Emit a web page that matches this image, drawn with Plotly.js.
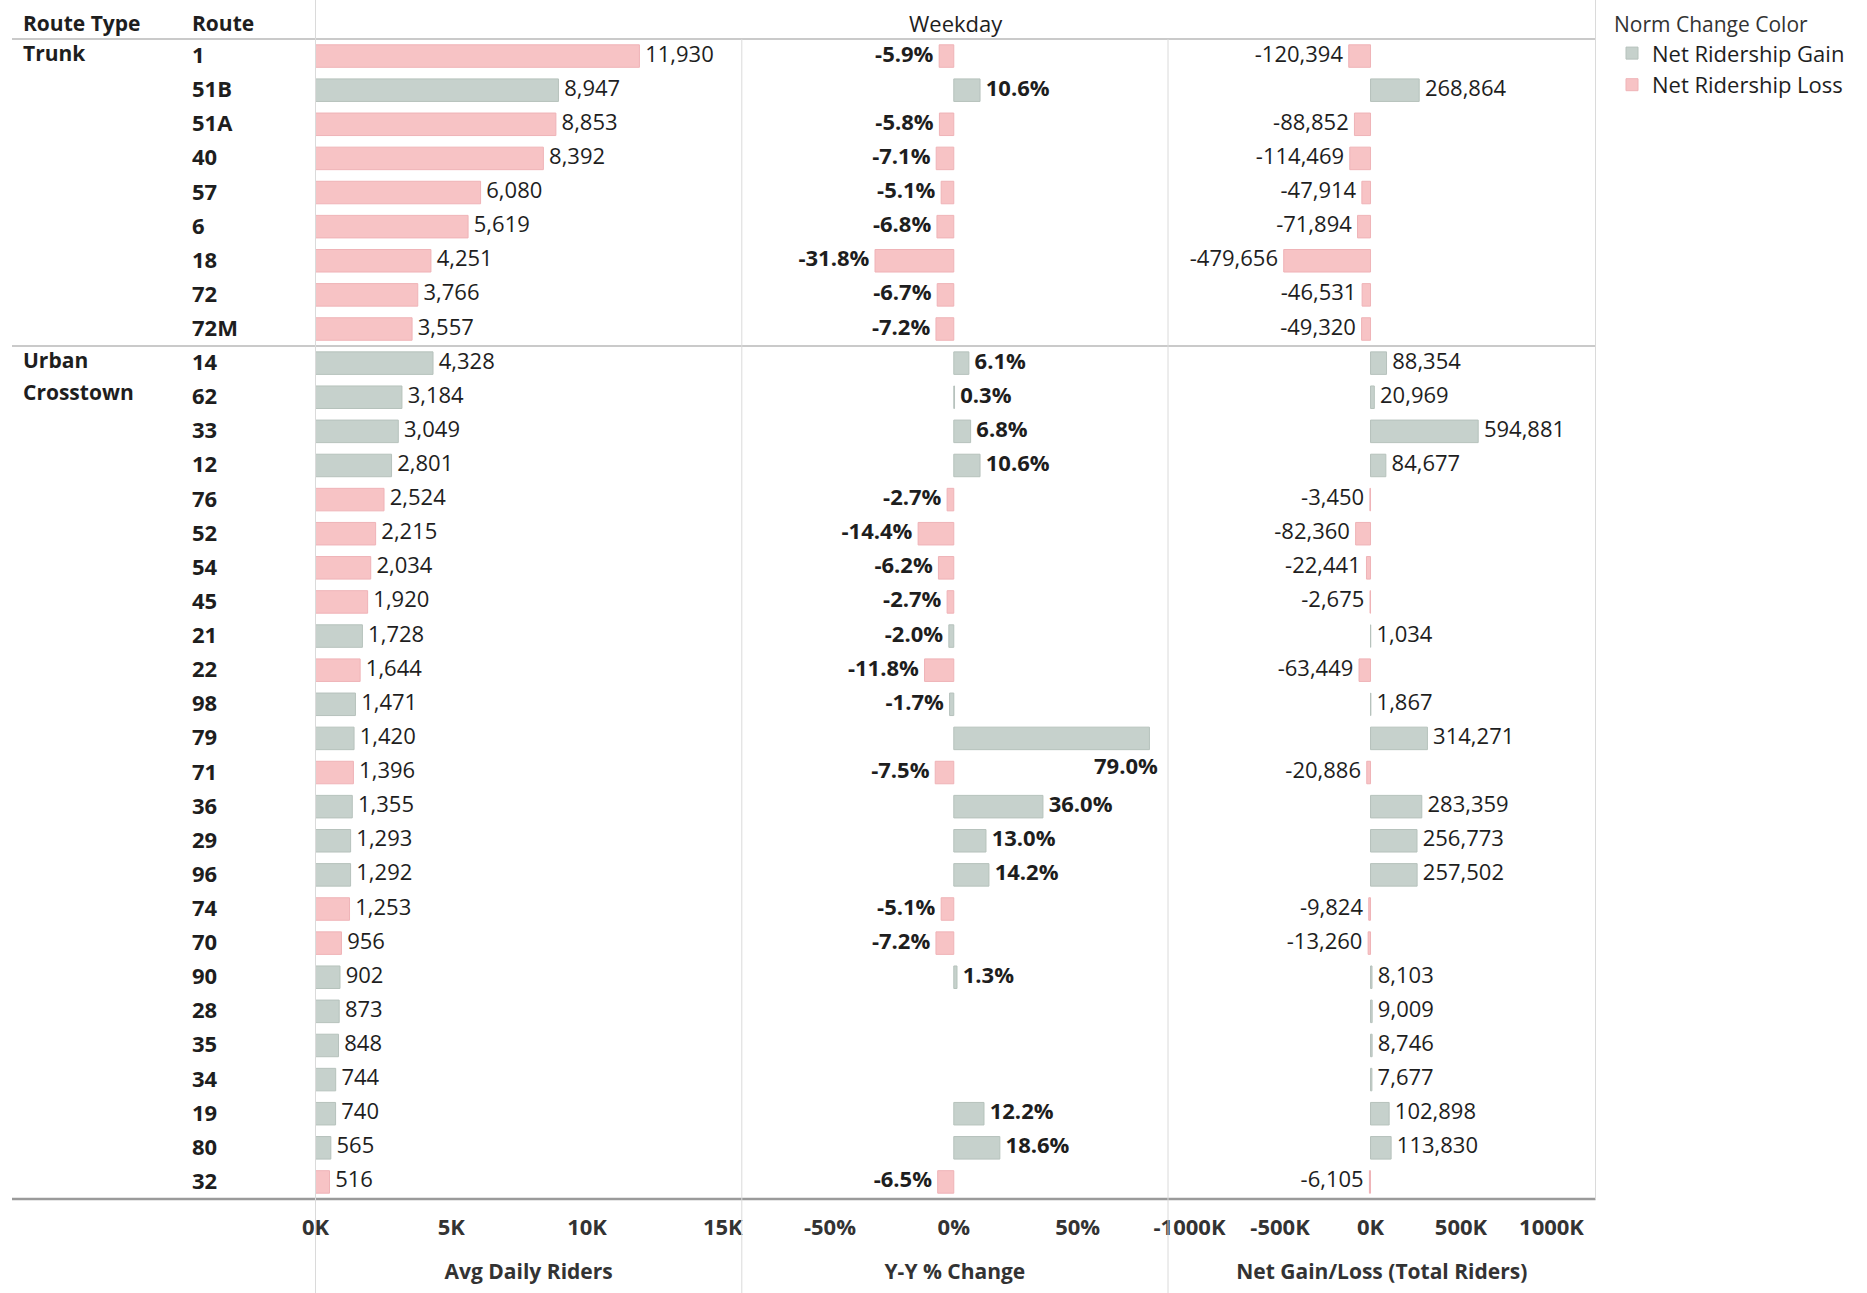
<!DOCTYPE html>
<html><head><meta charset="utf-8">
<script src="https://cdn.plot.ly/plotly-3.0.1.min.js"></script>
<style>html,body{margin:0;padding:0;background:#fff}#chart{width:1867px;height:1293px}</style>
</head><body><div id="chart"></div>
<script>
const routes = ['1','51B','51A','40','57','6','18','72','72M','14','62','33','12','76','52','54','45','21','22','98','79','71','36','29','96','74','70','90','28','35','34','19','80','32'];
const routeTypes = ['Trunk','Trunk','Trunk','Trunk','Trunk','Trunk','Trunk','Trunk','Trunk',
  'Urban Crosstown','Urban Crosstown','Urban Crosstown','Urban Crosstown','Urban Crosstown','Urban Crosstown','Urban Crosstown','Urban Crosstown','Urban Crosstown','Urban Crosstown','Urban Crosstown','Urban Crosstown','Urban Crosstown','Urban Crosstown','Urban Crosstown','Urban Crosstown','Urban Crosstown','Urban Crosstown','Urban Crosstown','Urban Crosstown','Urban Crosstown','Urban Crosstown','Urban Crosstown','Urban Crosstown','Urban Crosstown'];
const avgDailyRiders = [11930,8947,8853,8392,6080,5619,4251,3766,3557,4328,3184,3049,2801,2524,2215,2034,1920,1728,1644,1471,1420,1396,1355,1293,1292,1253,956,902,873,848,744,740,565,516];
const yyPctChange = [-5.9,10.6,-5.8,-7.1,-5.1,-6.8,-31.8,-6.7,-7.2,6.1,0.3,6.8,10.6,-2.7,-14.4,-6.2,-2.7,-2.0,-11.8,-1.7,79.0,-7.5,36.0,13.0,14.2,-5.1,-7.2,1.3,null,null,null,12.2,18.6,-6.5];
const netGainLoss = [-120394,268864,-88852,-114469,-47914,-71894,-479656,-46531,-49320,88354,20969,594881,84677,-3450,-82360,-22441,-2675,1034,-63449,1867,314271,-20886,283359,256773,257502,-9824,-13260,8103,9009,8746,7677,102898,113830,-6105];

const avgTickVals = [0,5000,10000,15000];
const avgTickText = ['0K','5K','10K','15K'];
const pctTickVals = [-50,0,50];
const pctTickText = ['-50%','0%','50%'];
const netTickVals = [-1000000,-500000,0,500000,1000000];
const netTickText = ['-1000K','-500K','0K','500K','1000K'];

const headerLeft = ['Route Type','Route'];
const headerTop = 'Weekday';
const axisTitles = ['Avg Daily Riders','Y-Y % Change','Net Gain/Loss (Total Riders)'];
const legendTitle = 'Norm Change Color';
const seriesNames = ['Net Ridership Gain','Net Ridership Loss'];

const FONT = 'Open Sans, Noto Sans, sans-serif';
const GAIN = '#c6d1cc', GAIN_LINE = '#b6c2bc';
const LOSS = '#f7c3c5', LOSS_LINE = '#efb3b7';
const TXT = '#1e1e1e';
const NB = '\u00a0';

function fmtInt(v){ return v.toLocaleString('en-US'); }
function fmtPct(v){ return v.toFixed(1) + '%'; }

const traces = [];
const annotations = [];
function addPanel(vals, xa, fmt, bold, showLegend, bigThreshold){
  const gx = vals.map((v,i)=> netGainLoss[i] >= 0 ? v : null);
  const lx = vals.map((v,i)=> netGainLoss[i] < 0 ? v : null);
  const tfont = {family:FONT, size:22, color:TXT, weight: bold ? 'bold' : 'normal'};
  traces.push({type:'bar', orientation:'h', x:gx, y:routes, xaxis:xa, yaxis:'y',
    name:seriesNames[0], legendgroup:'gain', showlegend:showLegend,
    marker:{color:GAIN, line:{color:GAIN_LINE, width:1}}, hoverinfo:'x+y'});
  traces.push({type:'bar', orientation:'h', x:lx, y:routes, xaxis:xa, yaxis:'y',
    name:seriesNames[1], legendgroup:'loss', showlegend:showLegend,
    marker:{color:LOSS, line:{color:LOSS_LINE, width:1}}, hoverinfo:'x+y'});
  // labels that fit beside the bar
  const inlineX = vals.map(v => (v === null || v > bigThreshold) ? null : v);
  traces.push({type:'scatter', mode:'text', x:inlineX, y:routes, xaxis:xa, yaxis:'y',
    text: inlineX.map(v => v === null ? '' : (v < 0 ? fmt(v) + NB : NB + fmt(v))),
    textposition: inlineX.map(v => (v !== null && v < 0) ? 'middle left' : 'middle right'),
    textfont:tfont, showlegend:false, hoverinfo:'skip', cliponaxis:false});
  // labels of bars too long for the panel go beneath the bar end
  vals.forEach((v,i)=>{
    if (v !== null && v > bigThreshold){
      annotations.push({text:fmt(v), xref:xa, yref:'y', x:v, y:i, xanchor:'right', yanchor:'middle',
        xshift:11, yshift:-27, showarrow:false, font:tfont});
    }
  });
}
addPanel(avgDailyRiders, 'x', fmtInt, false, true, Infinity);
addPanel(yyPctChange, 'x2', fmtPct, true, false, 60);
addPanel(netGainLoss, 'x3', fmtInt, false, false, Infinity);

const P1 = 315.5/1867, P2 = 741.8/1867, P3 = 1168/1867, P4 = 1595.5/1867;
const YB = 1 - 1199/1293, YT = 1 - 39/1293;
const LEFTX = 12/1867;

function xax(domain, range, tv, tt, title){
  return {domain:domain, range:range, anchor:'y', tickvals:tv, ticktext:tt,
    tickfont:{family:FONT, size:22, color:'#333', weight:'bold'},
    showgrid:false, zeroline:false, showline:false, ticks:'', ticklabelstandoff:13,
    title:{text:title, font:{family:FONT, size:21, color:'#333', weight:'bold'}, standoff:24},
    fixedrange:true};
}

const shapes = [
  {type:'line', xref:'paper', yref:'paper', x0:LEFTX, x1:P4, y0:YT, y1:YT, line:{color:'#b8b8b8', width:1.5}},
  {type:'line', xref:'paper', yref:'y', x0:LEFTX, x1:P4, y0:8.5, y1:8.5, line:{color:'#b8b8b8', width:1.5}},
  {type:'line', xref:'paper', yref:'paper', x0:LEFTX, x1:P4, y0:YB, y1:YB, line:{color:'#9a9a9a', width:2.5}},
  {type:'line', xref:'paper', yref:'paper', x0:P1, x1:P1, y0:0, y1:1, line:{color:'#dadada', width:1}},
  {type:'line', xref:'paper', yref:'paper', x0:P2, x1:P2, y0:0, y1:YT, line:{color:'#dadada', width:1}},
  {type:'line', xref:'paper', yref:'paper', x0:P3, x1:P3, y0:0, y1:YT, line:{color:'#dadada', width:1}},
  {type:'line', xref:'paper', yref:'paper', x0:P4, x1:P4, y0:YB, y1:1, line:{color:'#dadada', width:1}}
];

const HY = 1 - 23/1293;
annotations.push({text:headerLeft[0], xref:'paper', yref:'paper', x:21/1867, y:HY, xanchor:'left', yanchor:'middle', showarrow:false, font:{family:FONT, size:21, color:TXT, weight:'bold'}});
annotations.push({text:headerLeft[1], xref:'paper', yref:'paper', x:190/1867, y:HY, xanchor:'left', yanchor:'middle', showarrow:false, font:{family:FONT, size:21, color:TXT, weight:'bold'}});
annotations.push({text:headerTop, xref:'paper', yref:'paper', x:(P1+P4)/2, y:HY, xanchor:'center', yanchor:'middle', showarrow:false, font:{family:FONT, size:22, color:TXT}});
routes.forEach((r,i)=>{
  annotations.push({text:r, xref:'paper', yref:'y', x:190/1867, y:i, xanchor:'left', yanchor:'middle', yshift:2, showarrow:false, font:{family:FONT, size:22, color:TXT, weight:'bold'}});
});
routeTypes.forEach((t,i)=>{
  if (i === 0 || routeTypes[i-1] !== t){
    t.split(' ').forEach((w,j)=>{
      annotations.push({text:w, xref:'paper', yref:'y', x:21/1867, y:i + j*0.92,
        xanchor:'left', yanchor:'middle', yshift:3, showarrow:false, font:{family:FONT, size:21, color:TXT, weight:'bold'}});
    });
  }
});

const layout = {
  width:1867, height:1293, margin:{l:0,r:0,t:0,b:0},
  paper_bgcolor:'#ffffff', plot_bgcolor:'rgba(0,0,0,0)',
  font:{family:FONT, size:21, color:TXT},
  barmode:'overlay', bargap:0.34,
  showlegend:true,
  legend:{x:1612/1867, y:1 - 5/1293, xanchor:'left', yanchor:'top', traceorder:'normal',
    title:{text:legendTitle, font:{family:FONT, size:21, color:'#333'}},
    font:{family:FONT, size:22, color:TXT}, itemwidth:30, bgcolor:'rgba(0,0,0,0)'},
  xaxis: xax([P1,P2], [0,15700], avgTickVals, avgTickText, axisTitles[0]),
  xaxis2: xax([P2,P3], [-85.6,86.5], pctTickVals, pctTickText, axisTitles[1]),
  xaxis3: xax([P3,P4], [-1119000,1243000], netTickVals, netTickText, axisTitles[2]),
  yaxis:{domain:[YB,YT], type:'category', categoryorder:'array', categoryarray:routes,
    range:[33.5,-0.5], showticklabels:false, showgrid:false, zeroline:false, showline:false, ticks:'', anchor:'x', fixedrange:true},
  shapes:shapes, annotations:annotations
};

Plotly.newPlot('chart', traces, layout, {displayModeBar:false, staticPlot:true});
</script>
</body></html>
